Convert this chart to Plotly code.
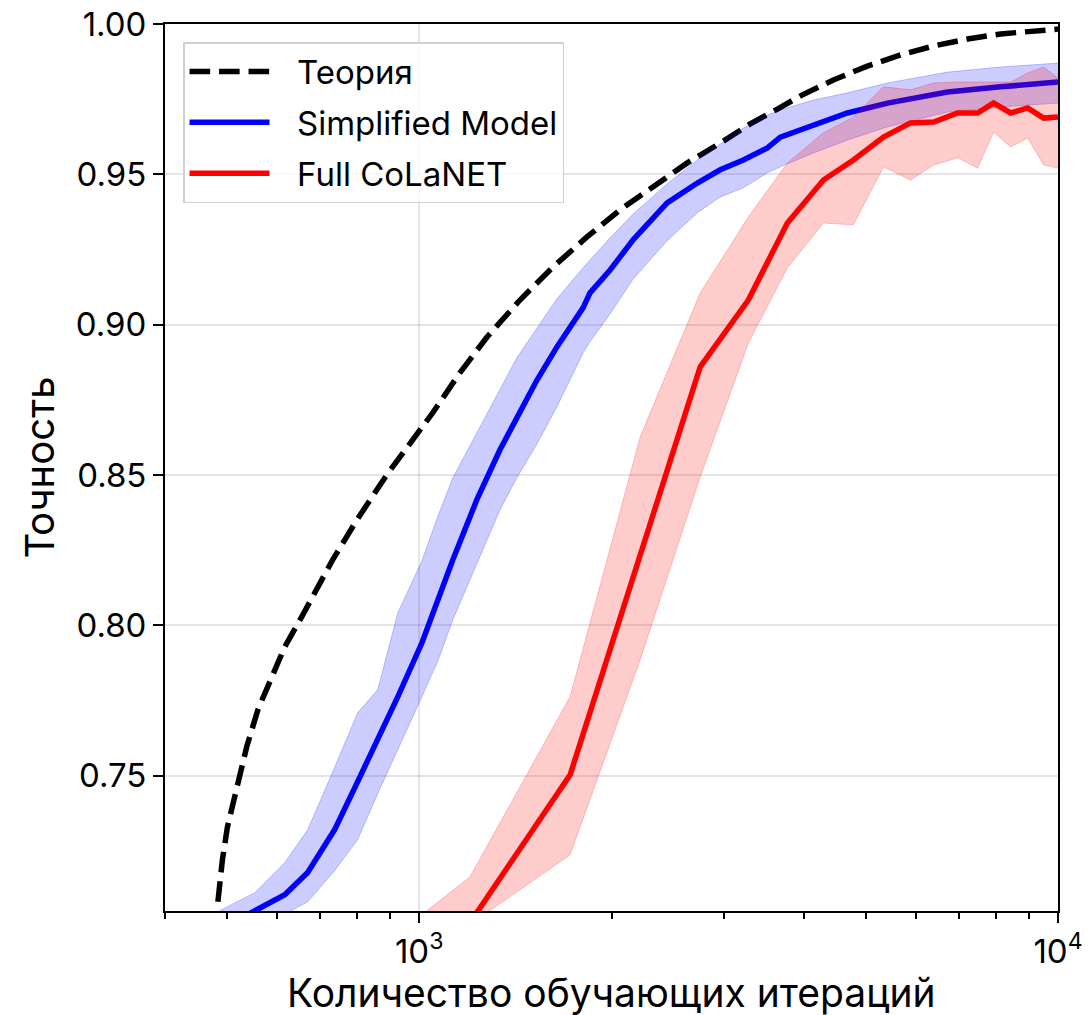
import math
import plotly.graph_objects as go

# ---------------- data ----------------
theory_x = [484, 492, 501, 518, 537, 559, 588, 616, 655, 732, 799, 890, 1050, 1158,
            1277, 1438, 1620, 1831, 2063, 2324, 2628, 2960, 3298, 3637, 3952, 4450,
            5030, 5667, 6388, 7219, 8131, 10000]
theory_y = [0.7081, 0.7221, 0.7330, 0.7463, 0.7596, 0.7719, 0.7829, 0.7929, 0.8029,
            0.8218, 0.8351, 0.8501, 0.8707, 0.8840, 0.8959, 0.9082, 0.9192, 0.9292,
            0.9382, 0.9458, 0.9538, 0.9604, 0.9668, 0.9717, 0.9761, 0.9814, 0.9860,
            0.9897, 0.9927, 0.9950, 0.9967, 0.9983]

simp_x = [487, 553, 616, 669, 737, 801, 861, 926, 1010, 1070, 1129, 1231, 1338, 1422,
          1529, 1643, 1805, 1851, 1990, 2162, 2444, 2725, 2960, 3217, 3508, 3676, 4141,
          4681, 5409, 6716, 8131, 10000]
simp_mean = [0.6988, 0.7051, 0.7104, 0.7178, 0.7320, 0.7480, 0.7620, 0.7763, 0.7942,
             0.8085, 0.8218, 0.8418, 0.8584, 0.8690, 0.8816, 0.8926, 0.9056, 0.9106,
             0.9182, 0.9282, 0.9405, 0.9471, 0.9515, 0.9548, 0.9588, 0.9624, 0.9664,
             0.9704, 0.9737, 0.9774, 0.9791, 0.9807]
simp_upper = [0.7051, 0.7111, 0.7211, 0.7320, 0.7527, 0.7709, 0.7786, 0.8042, 0.8215,
              0.8364, 0.8491, 0.8640, 0.8783, 0.8890, 0.8989, 0.9086, 0.9189, 0.9215,
              0.9289, 0.9368, 0.9468, 0.9548, 0.9601, 0.9654, 0.9697, 0.9714, 0.9747,
              0.9771, 0.9804, 0.9840, 0.9857, 0.9870]
simp_lower = [0.6922, 0.6985, 0.7038, 0.7081, 0.7184, 0.7287, 0.7440, 0.7586, 0.7763,
              0.7882, 0.8019, 0.8205, 0.8384, 0.8491, 0.8604, 0.8727, 0.8906, 0.8943,
              0.9036, 0.9152, 0.9279, 0.9372, 0.9425, 0.9455, 0.9505, 0.9525, 0.9571,
              0.9614, 0.9658, 0.9707, 0.9724, 0.9737]

full_x = [837, 1201, 1723, 2218, 2754, 3275, 3770, 4294, 4784, 5331, 5876, 6388, 6964,
          7484, 7929, 8432, 8965, 9497, 10000]
full_mean = [0.6600, 0.7011, 0.7503, 0.8241, 0.8860, 0.9082, 0.9338, 0.9481, 0.9548,
             0.9624, 0.9671, 0.9674, 0.9704, 0.9704, 0.9737, 0.9704, 0.9721, 0.9687, 0.9691]
full_upper = [0.6900, 0.7164, 0.7763, 0.8627, 0.9106, 0.9358, 0.9538, 0.9638, 0.9691,
              0.9791, 0.9781, 0.9804, 0.9807, 0.9807, 0.9807, 0.9807, 0.9837, 0.9857, 0.9820]
full_lower = [0.6500, 0.7005, 0.7237, 0.7886, 0.8494, 0.8939, 0.9189, 0.9338, 0.9332,
              0.9525, 0.9481, 0.9531, 0.9555, 0.9521, 0.9641, 0.9591, 0.9621, 0.9531, 0.9521]

x_major_ticks = [1000, 10000]
x_major_text = ["10<sup>3</sup>", "10<sup>4</sup>"]
x_minor_ticks = [400, 500, 600, 700, 800, 900, 2000, 3000, 4000, 5000, 6000, 7000, 8000, 9000]
y_ticks = [0.75, 0.80, 0.85, 0.90, 0.95, 1.00]

labels = ["Теория", "Simplified Model", "Full CoLaNET"]
x_title = "Количество обучающих итераций"
y_title = "Точность"

FONT = "Inter"
PAD = "\u2002\u2009"  # small gap between legend line and legend text

fig = go.Figure()

fig.add_trace(go.Scatter(x=theory_x, y=theory_y, mode="lines", name=PAD + labels[0],
                         legendgroup="a",
                         line=dict(color="black", width=5.5, dash="20.6px,8.9px")))

# Simplified model band + line
fig.add_trace(go.Scatter(x=simp_x, y=simp_lower, mode="lines", showlegend=False,
                         line=dict(color="rgba(0,0,255,0.22)", width=1), hoverinfo="skip"))
fig.add_trace(go.Scatter(x=simp_x, y=simp_upper, mode="lines", showlegend=False,
                         fill="tonexty", fillcolor="rgba(0,0,255,0.2)",
                         line=dict(color="rgba(0,0,255,0.22)", width=1), hoverinfo="skip"))
fig.add_trace(go.Scatter(x=simp_x, y=simp_mean, mode="lines", name=PAD + labels[1],
                         legendgroup="b", line=dict(color="#0000ff", width=5.5)))

# Full CoLaNET band + line
fig.add_trace(go.Scatter(x=full_x, y=full_lower, mode="lines", showlegend=False,
                         line=dict(color="rgba(255,0,0,0.22)", width=1), hoverinfo="skip"))
fig.add_trace(go.Scatter(x=full_x, y=full_upper, mode="lines", showlegend=False,
                         fill="tonexty", fillcolor="rgba(255,0,0,0.2)",
                         line=dict(color="rgba(255,0,0,0.22)", width=1), hoverinfo="skip"))
fig.add_trace(go.Scatter(x=full_x, y=full_mean, mode="lines", name=PAD + labels[2],
                         legendgroup="c", line=dict(color="#ff0000", width=5.5)))

fig.update_layout(
    width=1089, height=1015,
    margin=dict(l=165, r=31, t=24, b=104, autoexpand=False),
    paper_bgcolor="white", plot_bgcolor="white",
    font=dict(family=FONT, size=32, color="black"),
    showlegend=True,
    legend=dict(x=0.0202, y=0.9797, xanchor="left", yanchor="top",
                bgcolor="rgba(255,255,255,0.8)", bordercolor="#d0d0d0", borderwidth=1.5,
                font=dict(family=FONT, size=33, color="black"),
                itemwidth=80, tracegroupgap=5,
                entrywidthmode="pixels", entrywidth=367),
    xaxis=dict(type="log", range=[math.log10(400), 4], automargin=False,
               tickmode="array", tickvals=x_major_ticks, ticktext=x_major_text,
               ticks="outside", ticklen=10, tickwidth=2, tickcolor="black",
               showgrid=True, gridcolor="rgba(0,0,0,0.1)", gridwidth=1.5,
               minor=dict(tickmode="array", tickvals=x_minor_ticks, ticks="outside",
                          ticklen=6, tickwidth=1.5, tickcolor="black", showgrid=False),
               showline=True, linecolor="black", linewidth=2, mirror=True,
               zeroline=False,
               tickfont=dict(size=33)),
    yaxis=dict(range=[0.705, 1.0], automargin=False, tickmode="array", tickvals=y_ticks,
               tickformat=".2f",
               ticks="outside", ticklen=10, tickwidth=2, tickcolor="black",
               showgrid=True, gridcolor="rgba(0,0,0,0.1)", gridwidth=1.5,
               showline=True, linecolor="black", linewidth=2, mirror=True,
               zeroline=False,
               tickfont=dict(size=33),
               title=dict(text=y_title, font=dict(size=40), standoff=9)),
    annotations=[dict(text=x_title, xref="paper", yref="paper", x=0.5, y=-0.0924,
                      xanchor="center", yanchor="middle", showarrow=False,
                      font=dict(family=FONT, size=39, color="black"))],
)

fig.write_html("out.html", config={"displayModeBar": False},
               post_script="document.body.style.margin='0';")
